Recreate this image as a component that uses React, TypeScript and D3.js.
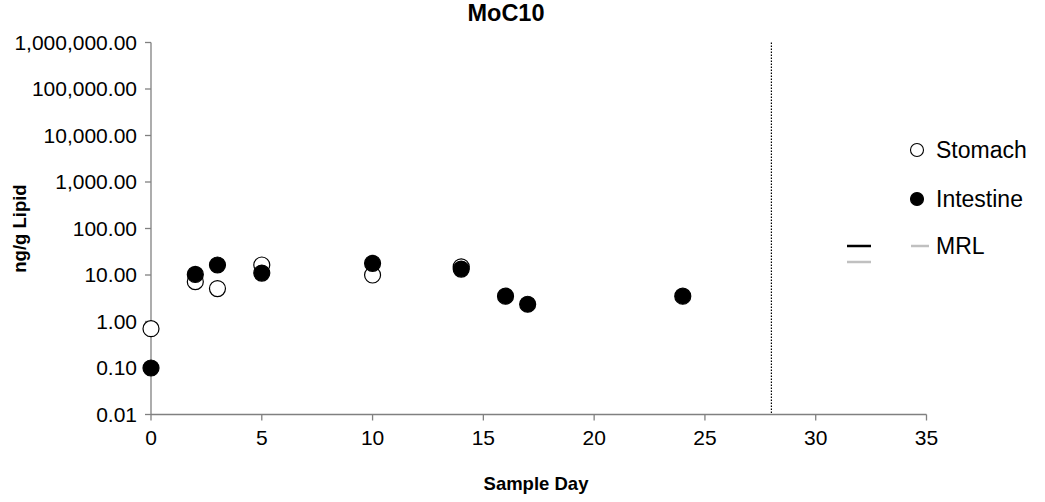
import React from "react";
import * as d3 from "d3";

const stomachDays = [0, 2, 3, 5, 10, 14];
const stomachValues = [0.7, 7.2, 5.1, 16.4, 10, 15];
const intestineDays = [0, 2, 3, 5, 10, 14, 16, 17, 24];
const intestineValues = [0.1, 10.3, 16.4, 11, 17.8, 13.4, 3.5, 2.35, 3.5];
const xTicks = [0, 5, 10, 15, 20, 25, 30, 35];
const yTicks = [0.01, 0.1, 1, 10, 100, 1000, 10000, 100000, 1000000];
const mrlDay = 28;
const title = "MoC10";
const xTitle = "Sample Day";
const yTitle = "ng/g Lipid";
const legendNames = ["Stomach", "Intestine", "MRL"];

const W = 1045;
const H = 502;
const left = 151;
const right = 926.5;
const top = 42.5;
const bottom = 414.5;
const FONT = "'Liberation Sans', Arial, sans-serif";
const AXIS = "#808080";

export default function App() {
  const x = d3.scaleLinear().domain([0, 35]).range([left, right]);
  const y = d3.scaleLog().domain([0.01, 1000000]).range([bottom, top]);
  const fmt = d3.format(",.2f");
  return (
    <svg width={W} height={H} style={{ position: "absolute", left: 0, top: 0, background: "#fff" }} fontFamily={FONT}>
      <rect width={W} height={H} fill="#fff" />
      <text x={506} y={21} textAnchor="middle" fontSize={23.5} fontWeight="bold">{title}</text>
      {/* axes */}
      <line x1={left} x2={left} y1={top} y2={bottom} stroke={AXIS} strokeWidth={1.3} />
      <line x1={left} x2={right} y1={bottom} y2={bottom} stroke={AXIS} strokeWidth={1.3} />
      {yTicks.map((t) => (
        <g key={"y" + t}>
          <line x1={left - 6} x2={left} y1={y(t)} y2={y(t)} stroke={AXIS} strokeWidth={1.3} />
          <text x={137} y={y(t)} dy="0.35em" textAnchor="end" fontSize={21}>{fmt(t)}</text>
        </g>
      ))}
      {xTicks.map((t) => (
        <g key={"x" + t}>
          <line x1={x(t)} x2={x(t)} y1={bottom} y2={bottom + 6} stroke={AXIS} strokeWidth={1.3} />
          <text x={x(t)} y={445} textAnchor="middle" fontSize={21}>{t}</text>
        </g>
      ))}
      <text x={536} y={490} textAnchor="middle" fontSize={18.5} fontWeight="bold">{xTitle}</text>
      <text transform={`translate(26,${(top + bottom) / 2}) rotate(-90)`} textAnchor="middle" fontSize={18.5} fontWeight="bold">{yTitle}</text>
      {/* MRL vertical */}
      <line x1={x(mrlDay)} x2={x(mrlDay)} y1={top} y2={bottom} stroke="#000" strokeWidth={1.2} strokeDasharray="1.5,1.5" />
      {/* points */}
      {stomachDays.map((d, i) => (
        <circle key={"s" + i} cx={x(d)} cy={y(stomachValues[i])} r={8} fill="#fff" stroke="#000" strokeWidth={1.2} />
      ))}
      {intestineDays.map((d, i) => (
        <circle key={"i" + i} cx={x(d)} cy={y(intestineValues[i])} r={8} fill="#000" stroke="#000" strokeWidth={1.2} />
      ))}
      {/* legend */}
      <circle cx={917} cy={150} r={6.5} fill="#fff" stroke="#000" strokeWidth={1.1} />
      <text x={936} y={150} dy="0.35em" fontSize={23}>{legendNames[0]}</text>
      <circle cx={917} cy={199} r={6.5} fill="#000" stroke="#000" strokeWidth={1.1} />
      <text x={936} y={199} dy="0.35em" fontSize={23}>{legendNames[1]}</text>
      <line x1={847} x2={871} y1={246} y2={246} stroke="#000" strokeWidth={2.5} />
      <line x1={847} x2={871} y1={262} y2={262} stroke="#c0c0c0" strokeWidth={2.5} />
      <line x1={911} x2={929} y1={246} y2={246} stroke="#c0c0c0" strokeWidth={2.5} />
      <text x={936} y={246} dy="0.35em" fontSize={23}>{legendNames[2]}</text>
    </svg>
  );
}
